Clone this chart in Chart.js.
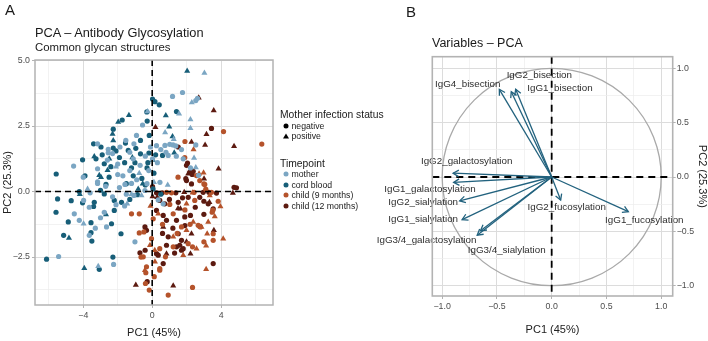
<!DOCTYPE html>
<html><head><meta charset="utf-8">
<script src="https://cdn.jsdelivr.net/npm/chart.js@4.4.0/dist/chart.umd.min.js"></script>
<style>
html,body{margin:0;padding:0;background:#fff;}
#wrap{position:relative;width:708px;height:341px;overflow:hidden;font-family:"Liberation Sans",Arial,Helvetica,sans-serif;color:#1a1a1a;}
canvas{position:absolute;top:0;}
.t{position:absolute;white-space:nowrap;line-height:1;transform:translateY(-50%);}
.k{position:absolute;transform:translate(-50%,-50%);}
.dot{width:5px;height:5px;border-radius:50%;}
.tri{width:0;height:0;border-left:3px solid transparent;border-right:3px solid transparent;border-bottom:5px solid #000;}
</style></head><body>
<div id="wrap">
<canvas id="cA" width="280" height="341" style="left:0;width:280px;height:341px"></canvas>
<canvas id="cB" width="338" height="341" style="left:370px;width:338px;height:341px"></canvas>
<div class="t" style="left:5px;top:9px;font-size:15px">A</div>
<div class="t" style="left:406px;top:11px;font-size:15px">B</div>
<div class="t" style="left:35px;top:33px;font-size:12.8px">PCA – Antibody Glycosylation</div>
<div class="t" style="left:35px;top:47.5px;font-size:11.4px">Common glycan structures</div>
<div class="t" style="left:432px;top:43px;font-size:12.5px">Variables – PCA</div>
<div class="t" style="left:280px;top:114.5px;font-size:10.3px">Mother infection status</div>
<div class="k dot" style="left:285.7px;top:125.7px;background:#000"></div>
<div class="t" style="left:291.5px;top:125.7px;font-size:8.7px">negative</div>
<div class="k tri" style="left:285.7px;top:135.8px"></div>
<div class="t" style="left:291.5px;top:136px;font-size:8.7px">positive</div>
<div class="t" style="left:280px;top:163.5px;font-size:10.3px">Timepoint</div>
<div id="tpLegend"></div>
</div>
<script>
// ---------------- DATA ----------------
const timepoints = ['mother', 'cord blood', 'child (9 months)', 'child (12 months)'];
const timepointColors = ['#7BA6C3', '#175E78', '#B5532B', '#5C1A10'];
const statuses = ['negative', 'positive'];

// PCA individuals: [PC1, PC2]
const motherNeg = [[1.76,3.78],[1.18,3.63],[2.53,3.47],[2.63,3.56],[2.53,1.78],[2.69,0.62],
 [-3.17,1.82],[-2.55,1.61],[-2.55,1.48],[-2.3,1.45],[-4.56,0.97],[-3.17,0.87],[-3.17,0.37],
 [-1.53,1.95],[-1.06,1.82],[-0.91,2.14],[0.74,1.76],[1.02,1.8],[1.21,1.78],[1.37,1.74],[-1.87,1.7],[-1.3,1.5],[-0.4,1.35],[0.02,1.25],[0.5,1.6],[0.8,1.5],[0.93,1.38],[1.8,1.25],[2.22,0.9],[-2.0,0.65],[-1.7,0.6],[-1.3,0.8],[-0.56,2.54],[0.25,1.75],
 [-3.17,0.31],[-3.98,-0.34],[-3.65,-0.6],[-2.78,-0.79],[-4.52,-0.85],[-4.23,-1.1],[-2.65,-1.35],[-3.65,-1.67],[-5.43,-2.48],[-2.24,-2.78],
 [-1.58,0.27],[-1.2,0.31],[-1.06,-0.15],[-0.42,0.04],[0.35,-0.32],[0.64,-0.47],[-1.0,-1.92],[-1.5,-0.1],[-0.3,0.3],
 [-2.6,1.2],[-2.0,1.05],[-1.1,1.25],[-0.7,1.0],[-0.2,0.8],[0.3,1.1],[-2.7,0.2],[-2.3,-0.2],[-1.9,0.15],[-0.9,0.45],[-3.6,-0.05],[-4.0,0.55],[1.4,1.35],[1.7,1.6],[-0.1,1.7],[0.45,0.35],[-1.6,-0.55],[-2.1,-0.5],[-3.0,-1.0],[-3.3,-1.4]];
const motherPos = [[3.03,4.52],[2.3,3.4],[2.22,2.75],[2.22,2.42],[2.43,1.28],[2.53,0.92],[-0.27,3.05],[1.56,2.97],[1.25,2.0],[-3.75,0.1],[-3.98,-1.23],[-3.13,-2.85],[-1.45,-0.47],[-0.62,-0.15],[0.1,0.35],[-2.1,0.95],[-0.75,0.7],[0.75,2.25],[-1.2,-0.1],[0.9,0.25]];
const cordNeg = [[-2.26,2.38],[-3.4,1.82],[-2.97,1.7],[-2.26,1.66],[-3.26,1.25],[-4.04,1.21],[-5.57,0.67],[-2.78,1.06],[0.02,3.53],[0.16,3.43],[0.41,3.31],[1.41,3.05],[-0.29,2.69],[-0.17,2.14],[-0.68,1.95],[-1.39,1.57],[-0.68,1.44],[-0.19,1.47],[0.6,1.38],[-1.74,2.73],[-0.31,3.04],
 [-2.68,0.27],[-4.23,0.0],[-2.78,-0.09],[-5.49,-0.28],[-4.04,-0.43],[-3.36,-0.41],[-3.4,-0.57],[-2.2,-0.34],[-2.2,-0.72],[-5.58,-0.79],[-4.87,-1.16],[-3.55,-1.19],[-2.36,-1.23],[-5.14,-1.67],[-3.55,-1.57],[-3.5,-1.89],[-6.13,-2.58],[-2.28,-2.5],[-3.07,-2.97],[-0.86,-0.12],[-1.78,-0.41],[-1.81,-1.61],
 [-1.9,1.3],[-1.6,1.1],[-1.0,1.1],[-1.2,0.9],[-2.4,0.95],[-0.3,0.9],[-0.6,0.5],[0.1,0.7],[-1.5,0.3],[-2.1,1.55],[-2.9,1.4],[-1.55,1.85],[-0.95,1.65],[-0.25,1.1],[0.2,1.4],[0.05,0.1],[-2.5,0.55],[-1.1,0.6],[-0.4,0.25],[-4.7,-0.35],[-3.0,0.05],[-1.3,-0.3],[0.5,-0.1],[-3.9,0.6]];
const cordPos = [[2.03,4.6],[-1.97,2.65],[-1.35,2.91],[0.79,2.9],[1.18,2.1],[-2.26,1.95],[-2.49,1.25],[-3.36,1.34],[-3.07,0.62],[-2.97,0.55],[-2.59,0.81],[0.04,1.2],[1.28,1.48],[-2.68,-0.88],[-4.83,-1.77],[-3.94,-2.93],[-0.81,0.1],[0.99,2.47],[-2.3,2.2],[-1.15,1.3],[-0.55,0.3],[-4.2,-0.1]];
const child9Neg = [[4.14,2.29],[6.36,1.81],[1.9,1.91],[3.11,0.09],[3.05,0.27],[3.83,-0.37],[3.52,-0.71],[3.48,-0.79],[2.67,-1.29],[2.8,-1.35],[3.0,-1.92],[2.34,-3.66],[-1.2,-0.85],[-0.75,-0.85],[-0.75,-1.58],[-0.65,-2.5],[-0.17,-3.76],[0.44,-3.0],[0.93,-3.95],
 [0.83,-0.03],[1.12,-0.05],[2.43,-0.03],[3.44,-0.03],[1.02,-0.49],[2.47,-0.34],[0.06,-1.04],[1.22,-0.85],[1.7,-1.35],[2.76,-1.33],[3.54,-1.61],[-0.48,-1.54],[-0.04,-1.8],[2.09,-1.99],[2.34,-2.11],[1.22,-2.11],[0.44,-2.18],[0.77,-2.49],[-0.52,-2.49],[-0.33,-2.87],[0.44,-2.94],[-0.37,-3.1],[0.12,-3.25],[-0.39,-3.51],[3.54,-1.86],
 [1.89,1.3],[2.57,0.61],[2.76,0.42],[3.0,0.29],[1.5,0.55],[0.6,-1.25],[1.45,-1.6],[1.9,-0.7],[2.2,-1.25]];
const child9Pos = [[3.96,-0.57],[3.63,-0.95],[3.19,-1.61],[3.13,-2.07],[4.12,-1.8],[3.13,-2.97],[-0.13,-2.05],[-0.42,-3.0],[0.16,-2.68],[2.72,0.68],[2.98,0.72],[2.34,-0.05],[1.99,-0.47],[3.34,-0.15],[0.35,-0.85],[1.99,-1.48],[2.38,-1.16],[2.86,-1.35],[3.25,-1.16],[1.22,-1.73],[1.8,-2.43],[2.57,-2.18],[0.15,-2.24],[2.4,1.6],[-0.1,-0.55]];
const child12Neg = [[0.25,-0.05],[0.58,-0.05],[1.37,-0.05],[2.96,-0.03],[3.73,-0.06],[4.75,0.16],[4.89,0.14],[0.44,-0.34],[0.73,-0.47],[1.51,-0.41],[1.76,-0.24],[2.09,-0.22],[2.76,-0.22],[3.25,-0.47],[3.54,-0.66],[0.25,-0.72],[0.64,-0.91],[0.83,-1.1],[1.41,-1.1],[1.89,-0.97],[2.22,-0.91],[-0.33,-1.48],[1.51,-1.61],[1.7,-1.86],[1.41,-2.11],[1.6,-2.05],[1.7,-2.24],[1.8,-2.18],[0.93,-1.73],[0.83,-2.05],[0.25,-2.37],[0.64,-2.75],[-0.41,-2.24],[3.54,-2.75],
 [2.05,1.09],[2.18,0.73],[2.38,0.77],[1.99,0.42],[2.28,0.29],[3.44,2.41],[0.02,0.19],[1.51,1.7],[1.99,1.0],[2.32,0.65],[1.95,0.49],[3.29,-0.03],[3.0,-0.37],[3.0,-0.87],[-0.42,-1.35],[-0.71,-2.34],[-0.29,-3.44],[0.35,-2.43],
 [1.2,-1.4],[1.0,-0.3],[1.9,-1.3],[0.6,-1.6],[2.5,-0.6],[1.3,-2.35]];
const child12Pos = [[2.7,3.58],[3.57,3.09],[3.15,2.19],[4.75,1.73],[3.07,1.78],[3.85,0.87],[3.01,0.49],[0.19,2.45],[2.28,1.89],[0.02,-0.19],[4.68,-0.06],[3.32,-0.41],[3.58,-1.48],[1.22,-3.6],[-0.95,-3.57],[0.29,-0.22],[1.86,-0.03],[1.64,-0.66],[0.64,-1.35],[2.28,-1.61],[1.99,-1.92],[2.22,-2.37],[0.83,-2.37],[2.09,0.68],[1.5,-0.65]];

// Axis ticks, panel A
const xGridA = [-6,-4,-2,0,2,4,6];
const xLabelsA = [-4,0,4];
const yGridA = [-3.75,-2.5,-1.25,0,1.25,2.5,3.75,5];
const yLabelsA = [-2.5,0,2.5,5];

// Variables (panel B): loadings
const varNames = ['IgG4_bisection','IgG2_bisection','IgG1_bisection','IgG2_galactosylation','IgG1_galactosylation','IgG2_sialylation','IgG1_sialylation','IgG3/4_galactosylation','IgG3/4_sialylation','IgG2_fucosylation','IgG1_fucosylation'];
const varPC1 = [-0.478,-0.369,-0.329,-0.900,-0.895,-0.840,-0.818,-0.680,-0.650,0.082,0.700];
const varPC2 = [0.807,0.785,0.807,0.035,-0.050,-0.220,-0.392,-0.535,-0.495,-0.212,-0.319];
// label anchor positions (repelled), in PC units
const labelPC1 = [-0.767,-0.113,0.076,-0.776,-1.111,-1.173,-1.173,-1.142,-0.411,0.137,0.846];
const labelPC2 = [0.856,0.938,0.816,0.141,-0.113,-0.233,-0.386,-0.586,-0.678,-0.282,-0.396];

const gridB = [-1,-0.75,-0.5,-0.25,0,0.25,0.5,0.75,1];
const labelsB = [-1,-0.5,0,0.5,1];

// ---------------- RENDER ----------------
const FONT = "'Liberation Sans', Arial, Helvetica, sans-serif";
Chart.defaults.font.family = FONT;
const near = (v, list) => list.some(m => Math.abs(m - v) < 1e-9);
const fmt = (v, d) => (v < -1e-9 ? '\u2212' : '') + Math.abs(v).toFixed(d);

// legend for timepoints
const leg = document.getElementById('tpLegend');
timepoints.forEach((t, i) => {
  const cy = 174.3 + i * 10.45;
  leg.insertAdjacentHTML('beforeend',
    `<div class="k dot" style="left:285.7px;top:${cy}px;background:${timepointColors[i]}"></div>` +
    `<div class="t" style="left:291.5px;top:${cy}px;font-size:8.7px">${t}</div>`);
});

function ptDs(label, pts, color, style) {
  return { label, data: pts.map(p => ({x: p[0], y: p[1]})), backgroundColor: color, borderColor: color,
    borderWidth: 0, pointStyle: style, pointRadius: style === 'triangle' ? 3.5 : 2.6, pointHoverRadius: 0 };
}

function gridOpts(majors) {
  return {
    color: c => (c.tick && near(c.tick.value, majors)) ? '#dcdcdc' : '#ececec',
    lineWidth: c => (c.tick && near(c.tick.value, majors)) ? 1 : 0.7,
    drawTicks: true, tickLength: 3,
    tickColor: c => (c.tick && near(c.tick.value, majors)) ? '#b3b3b3' : 'rgba(0,0,0,0)'
  };
}

function drawBorder(chart, w) {
  const {ctx, chartArea: a} = chart;
  ctx.save(); ctx.setLineDash([]); ctx.strokeStyle = '#b3b3b3'; ctx.lineWidth = w;
  ctx.strokeRect(a.left, a.top, a.width, a.height); ctx.restore();
}
function drawZeroLines(chart, dash, w) {
  const {ctx, chartArea: a, scales: {x, y}} = chart;
  const x0 = x.getPixelForValue(0), y0 = y.getPixelForValue(0);
  ctx.save(); ctx.beginPath(); ctx.rect(a.left, a.top, a.width, a.height); ctx.clip();
  ctx.setLineDash(dash); ctx.strokeStyle = '#000'; ctx.lineWidth = w;
  ctx.beginPath(); ctx.moveTo(x0, a.top); ctx.lineTo(x0, a.bottom);
  ctx.moveTo(a.left, y0); ctx.lineTo(a.right, y0); ctx.stroke(); ctx.restore();
}

const plugA = {
  id: 'plugA',
  afterDatasetsDraw(chart) { drawZeroLines(chart, [6, 4], 1.6); },
  afterDraw(chart) { drawBorder(chart, 1.5); }
};

new Chart(document.getElementById('cA'), {
  type: 'scatter',
  data: { datasets: [
    ptDs('mother negative', motherNeg, timepointColors[0], 'circle'),
    ptDs('mother positive', motherPos, timepointColors[0], 'triangle'),
    ptDs('cord blood negative', cordNeg, timepointColors[1], 'circle'),
    ptDs('cord blood positive', cordPos, timepointColors[1], 'triangle'),
    ptDs('child 9 negative', child9Neg, timepointColors[2], 'circle'),
    ptDs('child 9 positive', child9Pos, timepointColors[2], 'triangle'),
    ptDs('child 12 negative', child12Neg, timepointColors[3], 'circle'),
    ptDs('child 12 positive', child12Pos, timepointColors[3], 'triangle')
  ]},
  options: {
    responsive: false, animation: false, devicePixelRatio: 1,
    layout: { padding: { top: 60, right: 7, left: 0, bottom: 0 } },
    plugins: { legend: { display: false }, tooltip: { enabled: false } },
    scales: {
      x: { type: 'linear', min: -6.8, max: 7.01,
        afterBuildTicks: s => { s.ticks = xGridA.map(v => ({value: v})); },
        afterFit: s => { s.height = 36; },
        grid: gridOpts(xLabelsA), border: { display: false },
        ticks: { autoSkip: false, maxRotation: 0, padding: 2, color: '#4d4d4d', font: { size: 8.8 },
          callback: v => near(v, xLabelsA) ? fmt(v, 0) : '' },
        title: { display: true, text: 'PC1 (45%)', color: '#222', font: { size: 11, lineHeight: 1 }, padding: { top: 0, bottom: 2.5 } }
      },
      y: { type: 'linear', min: -4.33, max: 5.02,
        afterBuildTicks: s => { s.ticks = yGridA.map(v => ({value: v})); },
        afterFit: s => { s.width = 35; },
        grid: gridOpts(yLabelsA), border: { display: false },
        ticks: { autoSkip: false, padding: 2, color: '#4d4d4d', font: { size: 8.8 },
          callback: v => near(v, yLabelsA) ? fmt(v, 1) : '' },
        title: { display: true, text: 'PC2 (25.3%)', color: '#222', font: { size: 11, lineHeight: 1 }, padding: { top: 2, bottom: 0 } }
      }
    }
  },
  plugins: [plugA]
});

// Panel B
const arrowColor = '#22627E';
const plugB = {
  id: 'plugB',
  beforeDatasetsDraw(chart) {
    const {ctx, scales: {x, y}} = chart;
    const cx = x.getPixelForValue(0), cy = y.getPixelForValue(0);
    const rx = x.getPixelForValue(1) - cx, ry = cy - y.getPixelForValue(1);
    ctx.save(); ctx.strokeStyle = '#a9a9a9'; ctx.lineWidth = 1.3;
    ctx.beginPath(); ctx.ellipse(cx, cy, rx, ry, 0, 0, Math.PI * 2); ctx.stroke(); ctx.restore();
    drawZeroLines(chart, [7, 5], 1.8);
  },
  afterDatasetsDraw(chart) {
    const {ctx, scales: {x, y}} = chart;
    const x0 = x.getPixelForValue(0), y0 = y.getPixelForValue(0);
    ctx.save(); ctx.strokeStyle = arrowColor; ctx.lineWidth = 1.3; ctx.setLineDash([]);
    varNames.forEach((n, i) => {
      const px = x.getPixelForValue(varPC1[i]), py = y.getPixelForValue(varPC2[i]);
      const ang = Math.atan2(py - y0, px - x0), L = 6.5, h = Math.PI / 6;
      ctx.beginPath();
      ctx.moveTo(px - L * Math.cos(ang - h), py - L * Math.sin(ang - h));
      ctx.lineTo(px, py);
      ctx.lineTo(px - L * Math.cos(ang + h), py - L * Math.sin(ang + h));
      ctx.stroke();
    });
    ctx.fillStyle = '#2e2e2e'; ctx.font = '9.8px ' + FONT; ctx.textAlign = 'center'; ctx.textBaseline = 'middle';
    varNames.forEach((n, i) => {
      ctx.fillText(n, x.getPixelForValue(labelPC1[i]), y.getPixelForValue(labelPC2[i]));
    });
    ctx.restore();
  },
  afterDraw(chart) { drawBorder(chart, 1.6); }
};

new Chart(document.getElementById('cB'), {
  type: 'scatter',
  data: { datasets: varNames.map((n, i) => ({
    label: n, data: [{x: 0, y: 0}, {x: varPC1[i], y: varPC2[i]}], showLine: true,
    borderColor: arrowColor, backgroundColor: arrowColor, borderWidth: 1.3, pointRadius: 0, pointHoverRadius: 0
  }))},
  options: {
    responsive: false, animation: false, devicePixelRatio: 1,
    layout: { padding: { top: 56.7, left: 62.3, right: 0, bottom: 0 } },
    plugins: { legend: { display: false }, tooltip: { enabled: false } },
    scales: {
      x: { type: 'linear', min: -1.09, max: 1.105,
        afterBuildTicks: s => { s.ticks = gridB.map(v => ({value: v})); },
        afterFit: s => { s.height = 45; },
        grid: gridOpts(labelsB), border: { display: false },
        ticks: { autoSkip: false, maxRotation: 0, padding: 2, color: '#4d4d4d', font: { size: 8.8 },
          callback: v => near(v, labelsB) ? fmt(v, 1) : '' },
        title: { display: true, text: 'PC1 (45%)', color: '#222', font: { size: 11, lineHeight: 1 }, padding: { top: 0, bottom: 5.5 } }
      },
      y: { type: 'linear', position: 'right', min: -1.095, max: 1.107,
        afterBuildTicks: s => { s.ticks = gridB.map(v => ({value: v})); },
        afterFit: s => { s.width = 35.3; },
        grid: gridOpts(labelsB), border: { display: false },
        ticks: { autoSkip: false, padding: 1, color: '#4d4d4d', font: { size: 8.8 },
          callback: v => near(v, labelsB) ? fmt(v, 1) : '' },
        title: { display: true, text: 'PC2 (25.3%)', color: '#222', font: { size: 11, lineHeight: 1 }, padding: { top: 0, bottom: 0 } }
      }
    }
  },
  plugins: [plugB]
});
</script>
</body></html>
